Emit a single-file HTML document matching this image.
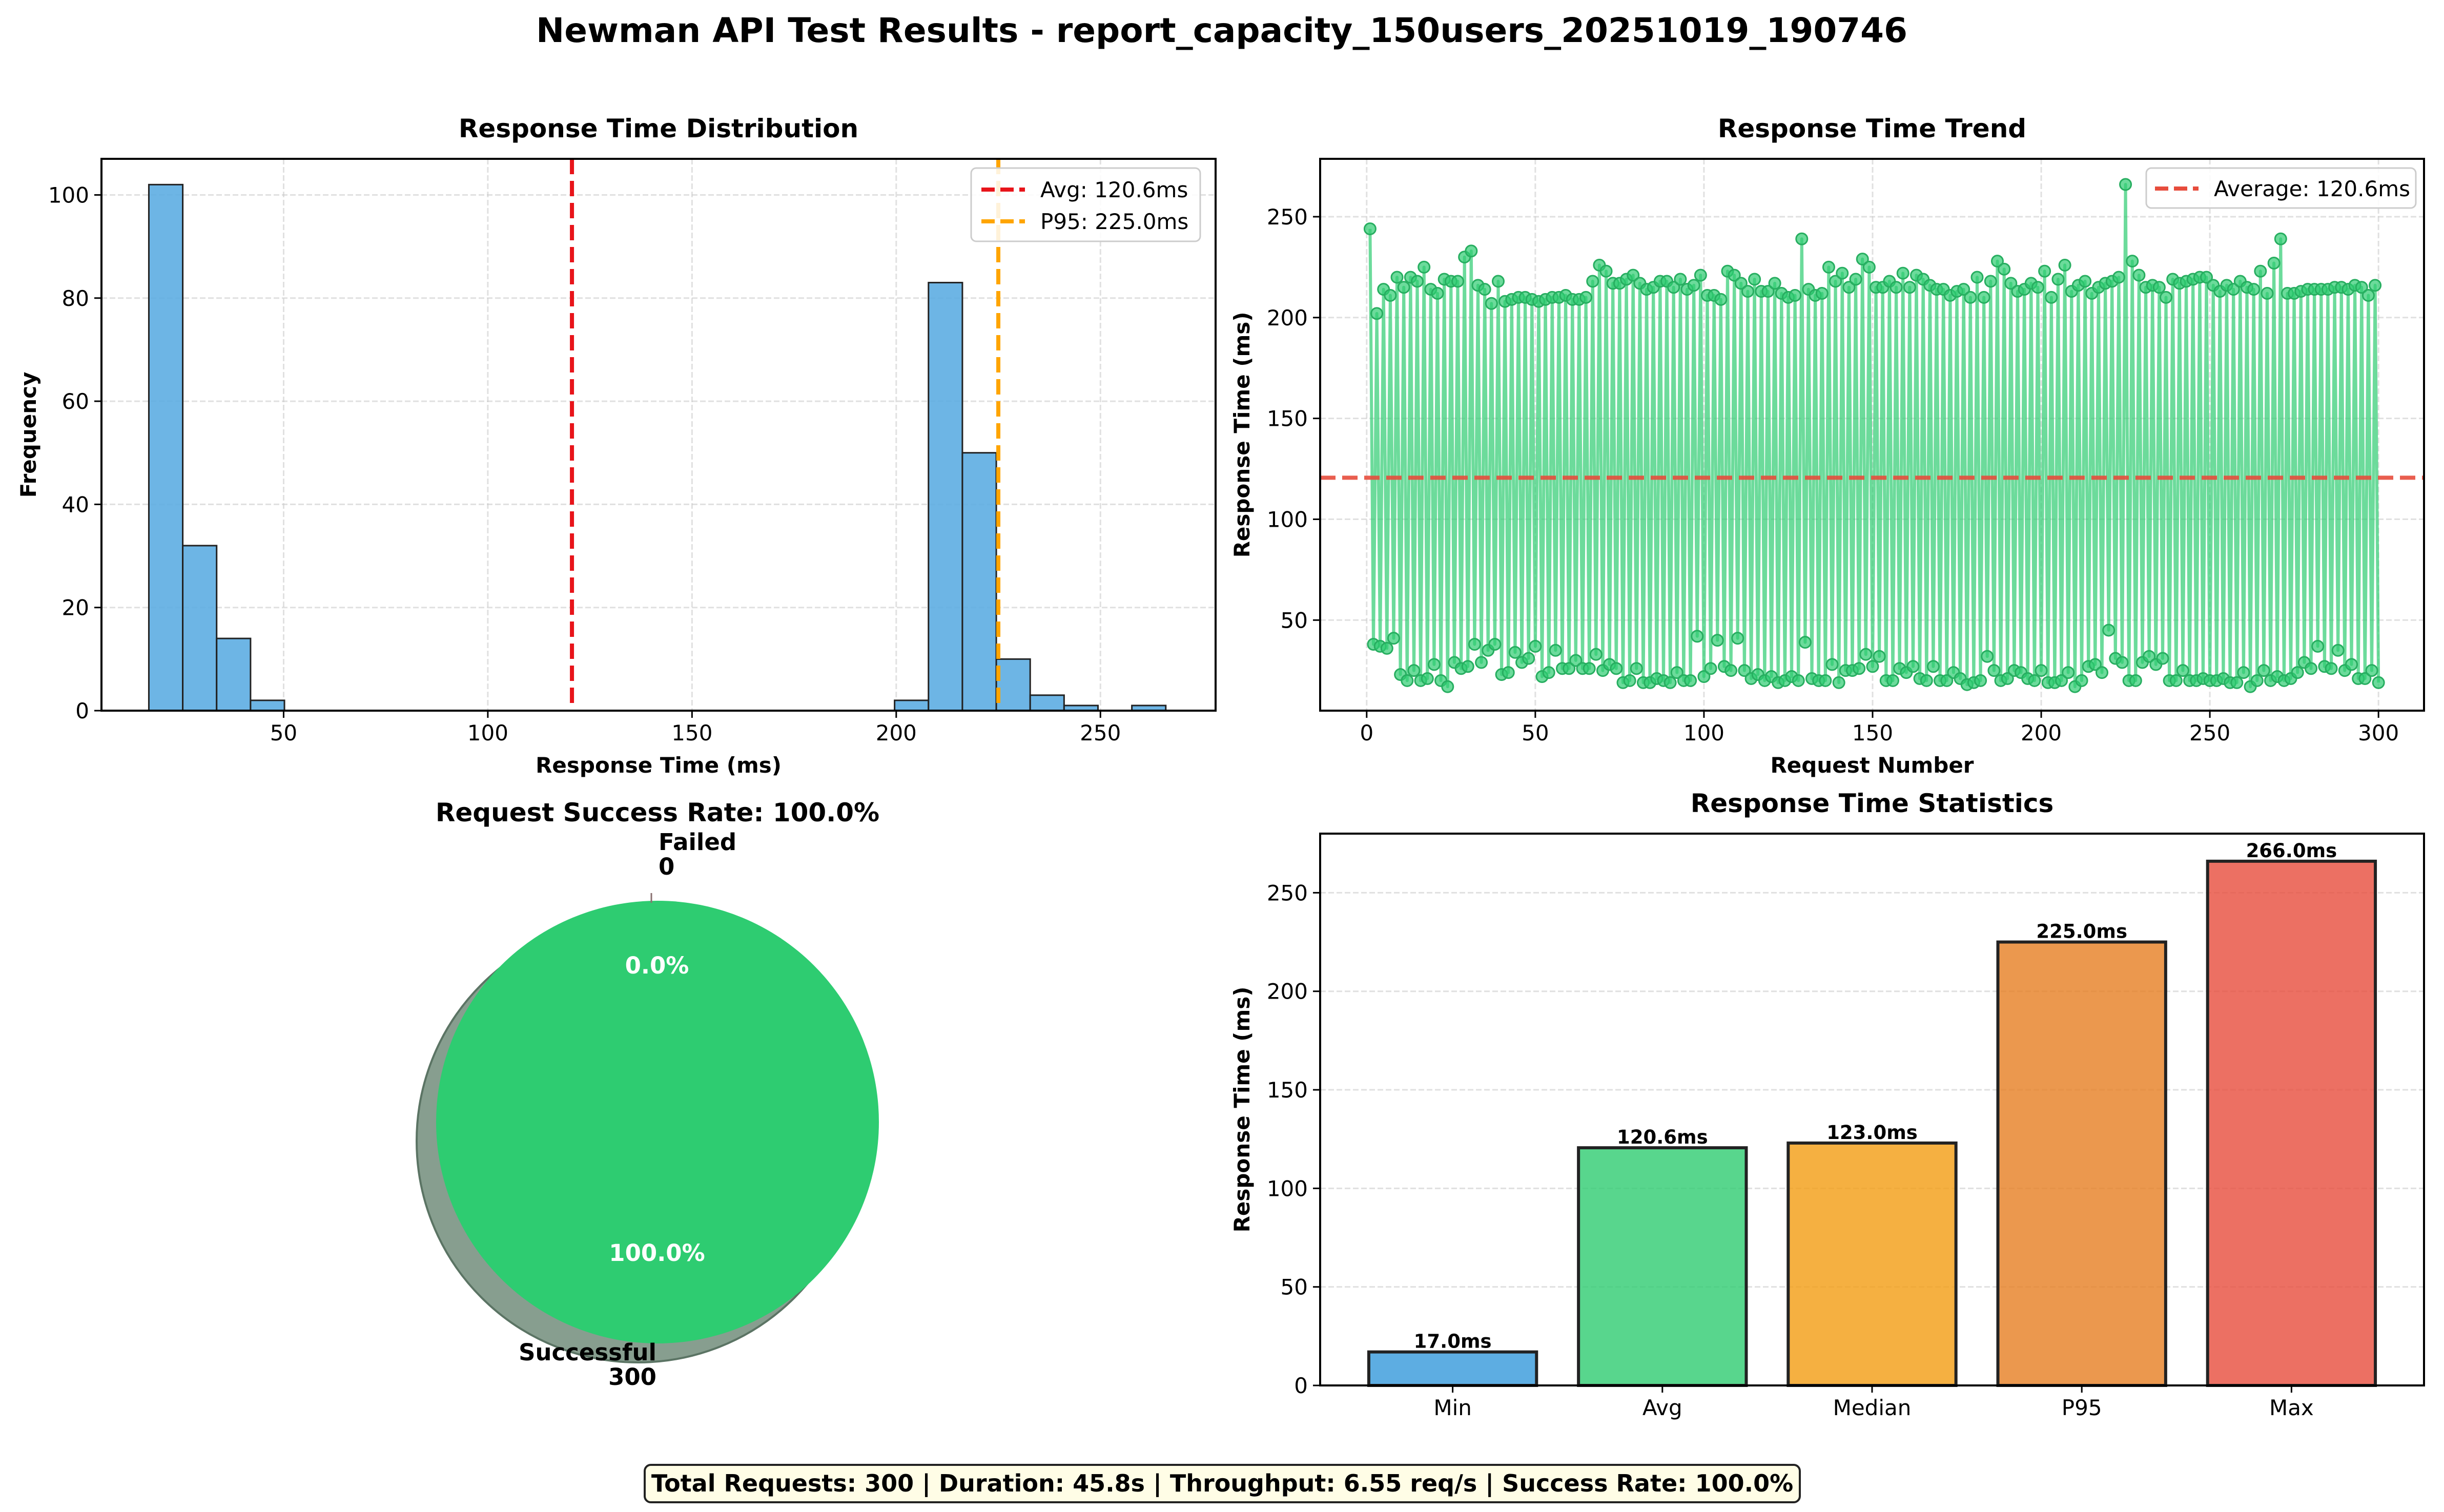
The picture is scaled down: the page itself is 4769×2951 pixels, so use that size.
<!DOCTYPE html>
<html><head><meta charset="utf-8">
<style>
html,body{margin:0;padding:0;background:#fff;}
svg{display:block;font-family:"DejaVu Sans","Liberation Sans",sans-serif;}
</style></head>
<body>
<svg id="fig" width="4769" height="2951" viewBox="0 0 4769 2951" xmlns="http://www.w3.org/2000/svg">
<rect width="4769" height="2951" fill="#fff"/>
<text x="2384" y="82" text-anchor="middle" font-size="66" font-weight="bold">Newman API Test Results - report_capacity_150users_20251019_190746</text>
<g id="hist"></g>
<g id="trend"></g>
<g id="pie"></g>
<g id="bars"></g>
<g>
<rect x="1258" y="2859" width="2254" height="73" rx="12" fill="#fffde6" stroke="#222" stroke-width="4"/>
<text x="2385" y="2911" text-anchor="middle" font-size="46" font-weight="bold">Total Requests: 300 | Duration: 45.8s | Throughput: 6.55 req/s | Success Rate: 100.0%</text>
</g>
</svg>
<script>
// ---- data ----
const histCounts = [102,32,14,2,0,0,0,0,0,0,0,0,0,0,0,0,0,0,0,0,0,0,2,83,50,10,3,1,0,1];
const histMin = 17, histMax = 266;
const histTicksX = [50,100,150,200,250];
const histTicksY = [0,20,40,60,80,100];
const avgVal = 120.6, p95Val = 225.0;
const trendHigh = [244,202,214,211,220,215,220,218,225,214,212,219,218,218,230,233,216,214,207,218,208,209,210,210,209,208,209,210,210,211,209,209,210,218,226,223,217,217,219,221,217,214,215,218,218,215,219,214,216,221,211,211,209,223,221,217,213,219,213,213,217,212,210,211,239,214,211,212,225,218,222,215,219,229,225,215,215,218,215,222,215,221,219,216,214,214,211,213,214,210,220,210,218,228,224,217,213,214,217,215,223,210,219,226,213,216,218,212,215,217,218,220,266,228,221,215,216,215,210,219,217,218,219,220,220,216,213,216,214,218,215,214,223,212,227,239,212,212,213,214,214,214,214,215,215,214,216,215,211,216];
const trendLow = [38,37,36,41,23,20,25,20,21,28,20,17,29,26,27,38,29,35,38,23,24,34,29,31,37,22,24,35,26,26,30,26,26,33,25,28,26,19,20,26,19,19,21,20,19,24,20,20,42,22,26,40,27,25,41,25,21,23,20,22,19,20,22,20,39,21,20,20,28,19,25,25,26,33,27,32,20,20,26,24,27,21,20,27,20,20,24,21,18,19,20,32,25,20,21,25,24,21,20,25,19,19,20,24,17,20,27,28,24,45,31,29,20,20,29,32,28,31,20,20,25,20,20,21,20,20,21,19,19,24,17,20,25,20,22,20,21,24,29,26,37,27,26,35,25,28,21,21,25,19];
const trendTicksX = [0,50,100,150,200,250,300];
const trendTicksY = [50,100,150,200,250];
const statCats = ["Min","Avg","Median","P95","Max"];
const statVals = [17.0,120.6,123.0,225.0,266.0];
const statTicksY = [0,50,100,150,200,250];
const pieLabels = ["Failed","Successful"];
const pieCounts = [0,300];

const NS="http://www.w3.org/2000/svg";
function mk(parent, tag, attrs, text){
  const e=document.createElementNS(NS,tag);
  for(const k in attrs) e.setAttribute(k,attrs[k]);
  if(text!==undefined) e.textContent=text;
  parent.appendChild(e); return e;
}
function scale(d0,d1,r0,r1){return v=>r0+(v-d0)*(r1-r0)/(d1-d0);}

// ---- histogram ----
(function(){
  const g=document.getElementById('hist');
  const L=198,R=2372,T=310,B=1387;
  const x=scale(5.4,278.2,L,R), y=scale(0,107,B,T);
  histTicksX.forEach(v=>{mk(g,'line',{x1:x(v),x2:x(v),y1:T,y2:B,stroke:'#ccc','stroke-width':3,'stroke-dasharray':'11 5',opacity:0.6});});
  histTicksY.forEach(v=>{mk(g,'line',{x1:L,x2:R,y1:y(v),y2:y(v),stroke:'#ccc','stroke-width':3,'stroke-dasharray':'11 5',opacity:0.6});});
  const bw=(histMax-histMin)/histCounts.length;
  histCounts.forEach((c,i)=>{
    if(c<=0) return;
    const r=mk(g,'rect',{x:x(histMin+i*bw),y:y(c),width:x(histMin+(i+1)*bw)-x(histMin+i*bw),height:y(0)-y(c),fill:'#5dade2','fill-opacity':0.9,stroke:'#222','stroke-width':3});
    
    
  });
  mk(g,'line',{x1:x(histMin),x2:x(histMax),y1:B,y2:B,stroke:'#222','stroke-width':3});
  const a=mk(g,'line',{x1:x(avgVal),x2:x(avgVal),y1:T,y2:B,stroke:'#e8141a','stroke-width':8,'stroke-dasharray':'30 13'});
  
  
  const p=mk(g,'line',{x1:x(p95Val),x2:x(p95Val),y1:T,y2:B,stroke:'#ffa500','stroke-width':8,'stroke-dasharray':'30 13'});
  
  
  mk(g,'rect',{x:L,y:T,width:R-L,height:B-T,fill:'none',stroke:'#000','stroke-width':4});
  histTicksX.forEach(v=>{mk(g,'line',{x1:x(v),x2:x(v),y1:B,y2:B+14,stroke:'#000','stroke-width':3});mk(g,'text',{x:x(v),y:B+58,'text-anchor':'middle','font-size':42},v);});
  histTicksY.forEach(v=>{mk(g,'line',{x1:L-14,x2:L,y1:y(v),y2:y(v),stroke:'#000','stroke-width':3});mk(g,'text',{x:L-24,y:y(v)+15,'text-anchor':'end','font-size':42},v);});
  mk(g,'text',{x:(L+R)/2,y:268,'text-anchor':'middle','font-size':50,'font-weight':'bold'},'Response Time Distribution');
  mk(g,'text',{x:(L+R)/2,y:1508,'text-anchor':'middle','font-size':42,'font-weight':'bold'},'Response Time (ms)');
  mk(g,'text',{x:70,y:(T+B)/2,'text-anchor':'middle','font-size':42,'font-weight':'bold',transform:`rotate(-90 70 ${(T+B)/2})`},'Frequency');
  const lg=mk(g,'g',{});
  mk(lg,'rect',{x:1895,y:328,width:447,height:143,rx:10,fill:'#fff','fill-opacity':0.85,stroke:'#ccc','stroke-width':3});
  mk(lg,'line',{x1:1915,x2:2000,y1:370,y2:370,stroke:'#e8141a','stroke-width':8,'stroke-dasharray':'26 11'});
  mk(lg,'text',{x:2030,y:385,'font-size':42},'Avg: 120.6ms');
  mk(lg,'line',{x1:1915,x2:2000,y1:432,y2:432,stroke:'#ffa500','stroke-width':8,'stroke-dasharray':'26 11'});
  mk(lg,'text',{x:2030,y:447,'font-size':42},'P95: 225.0ms');
})();

// ---- trend ----
(function(){
  const g=document.getElementById('trend');
  const L=2576,R=4730,T=310,B=1387;
  const x=scale(-13.8,313.5,L,R), y=scale(5.1,278.7,B,T);
  trendTicksX.forEach(v=>{mk(g,'line',{x1:x(v),x2:x(v),y1:T,y2:B,stroke:'#ccc','stroke-width':3,'stroke-dasharray':'11 5',opacity:0.6});});
  trendTicksY.forEach(v=>{mk(g,'line',{x1:L,x2:R,y1:y(v),y2:y(v),stroke:'#ccc','stroke-width':3,'stroke-dasharray':'11 5',opacity:0.6});});
  const vals=[];
  for(let i=0;i<Math.max(trendHigh.length,trendLow.length);i++){
    if(i<trendHigh.length) vals.push(trendHigh[i]);
    if(i<trendLow.length) vals.push(trendLow[i]);
  }
  const pts=vals.map((v,i)=>x(i+1).toFixed(1)+','+y(v).toFixed(1)).join(' ');
  const pl=mk(g,'polyline',{points:pts,fill:'none',stroke:'#2ecc71','stroke-width':6,'stroke-opacity':0.7,'stroke-linejoin':'round'});
  
  
  vals.forEach((v,i)=>{
    const c=mk(g,'circle',{cx:x(i+1),cy:y(v),r:11,fill:'#2ecc71','fill-opacity':0.7,stroke:'#27ae60','stroke-width':3});
    
    
  });
  const a=mk(g,'line',{x1:L,x2:R,y1:y(avgVal),y2:y(avgVal),stroke:'#e74c3c','stroke-width':8,'stroke-opacity':0.9,'stroke-dasharray':'30 13'});
  
  
  mk(g,'rect',{x:L,y:T,width:R-L,height:B-T,fill:'none',stroke:'#000','stroke-width':4});
  trendTicksX.forEach(v=>{mk(g,'line',{x1:x(v),x2:x(v),y1:B,y2:B+14,stroke:'#000','stroke-width':3});mk(g,'text',{x:x(v),y:B+58,'text-anchor':'middle','font-size':42},v);});
  trendTicksY.forEach(v=>{mk(g,'line',{x1:L-14,x2:L,y1:y(v),y2:y(v),stroke:'#000','stroke-width':3});mk(g,'text',{x:L-24,y:y(v)+15,'text-anchor':'end','font-size':42},v);});
  mk(g,'text',{x:(L+R)/2,y:268,'text-anchor':'middle','font-size':50,'font-weight':'bold'},'Response Time Trend');
  mk(g,'text',{x:(L+R)/2,y:1508,'text-anchor':'middle','font-size':42,'font-weight':'bold'},'Request Number');
  mk(g,'text',{x:2438,y:(T+B)/2,'text-anchor':'middle','font-size':42,'font-weight':'bold',transform:`rotate(-90 2438 ${(T+B)/2})`},'Response Time (ms)');
  const lg=mk(g,'g',{});
  mk(lg,'rect',{x:4188,y:328,width:526,height:78,rx:10,fill:'#fff','fill-opacity':0.85,stroke:'#ccc','stroke-width':3});
  mk(lg,'line',{x1:4205,x2:4290,y1:368,y2:368,stroke:'#e74c3c','stroke-width':8,'stroke-dasharray':'26 11'});
  mk(lg,'text',{x:4320,y:383,'font-size':42},'Average: 120.6ms');
})();

// ---- pie ----
(function(){
  const g=document.getElementById('pie');
  const cx=1283,cy=2190,r=432;
  const total=pieCounts.reduce((a,b)=>a+b,0);
  mk(g,'circle',{cx:cx-38,cy:cy+37,r:r,fill:'#879e8f',stroke:'#5b7464','stroke-width':4});
  const s=mk(g,'circle',{cx:cx,cy:cy,r:r,fill:'#2ecc71'});
  
  
  mk(g,'line',{x1:cx-12,x2:cx-12,y1:cy-r-15,y2:cy-r+4,stroke:'#8a7070','stroke-width':3});
  mk(g,'text',{x:(cx),y:1603,'text-anchor':'middle','font-size':50,'font-weight':'bold'},'Request Success Rate: 100.0%');
  mk(g,'text',{x:1285,y:1659,'font-size':45,'font-weight':'bold'},pieLabels[0]);
  mk(g,'text',{x:1285,y:1707,'font-size':45,'font-weight':'bold'},String(pieCounts[0]));
  mk(g,'text',{x:1281,y:2655,'text-anchor':'end','font-size':45,'font-weight':'bold'},pieLabels[1]);
  mk(g,'text',{x:1281,y:2703,'text-anchor':'end','font-size':45,'font-weight':'bold'},String(pieCounts[1]));
  mk(g,'text',{x:1282,y:1900,'text-anchor':'middle','font-size':45,'font-weight':'bold',fill:'#fff'},(100*pieCounts[0]/total).toFixed(1)+'%');
  mk(g,'text',{x:1282,y:2461,'text-anchor':'middle','font-size':45,'font-weight':'bold',fill:'#fff'},(100*pieCounts[1]/total).toFixed(1)+'%');
})();

// ---- bars ----
(function(){
  const g=document.getElementById('bars');
  const L=2576,R=4730,T=1627,B=2704;
  const x=scale(-0.632,4.632,L,R), y=scale(0,280,B,T);
  const colors=['#3498db','#2ecc71','#f39c12','#e67e22','#e74c3c'];
  statTicksY.forEach(v=>{mk(g,'line',{x1:L,x2:R,y1:y(v),y2:y(v),stroke:'#ccc','stroke-width':3,'stroke-dasharray':'11 5',opacity:0.6});});
  const bw=x(0.4)-x(0);
  statVals.forEach((v,i)=>{
    const r=mk(g,'rect',{x:x(i)-bw,y:y(v),width:2*bw,height:y(0)-y(v),fill:colors[i],'fill-opacity':0.8,stroke:'#222','stroke-width':6});
    
    
    mk(g,'text',{x:x(i),y:y(v)-8,'text-anchor':'middle','font-size':37,'font-weight':'bold'},v.toFixed(1)+'ms');
  });
  mk(g,'rect',{x:L,y:T,width:R-L,height:B-T,fill:'none',stroke:'#000','stroke-width':4});
  statCats.forEach((c,i)=>{mk(g,'line',{x1:x(i),x2:x(i),y1:B,y2:B+14,stroke:'#000','stroke-width':3});mk(g,'text',{x:x(i),y:B+58,'text-anchor':'middle','font-size':42},c);});
  statTicksY.forEach(v=>{mk(g,'line',{x1:L-14,x2:L,y1:y(v),y2:y(v),stroke:'#000','stroke-width':3});mk(g,'text',{x:L-24,y:y(v)+15,'text-anchor':'end','font-size':42},v);});
  mk(g,'text',{x:(L+R)/2,y:1585,'text-anchor':'middle','font-size':50,'font-weight':'bold'},'Response Time Statistics');
  mk(g,'text',{x:2438,y:(T+B)/2,'text-anchor':'middle','font-size':42,'font-weight':'bold',transform:`rotate(-90 2438 ${(T+B)/2})`},'Response Time (ms)');
})();
</script>
</body></html>
